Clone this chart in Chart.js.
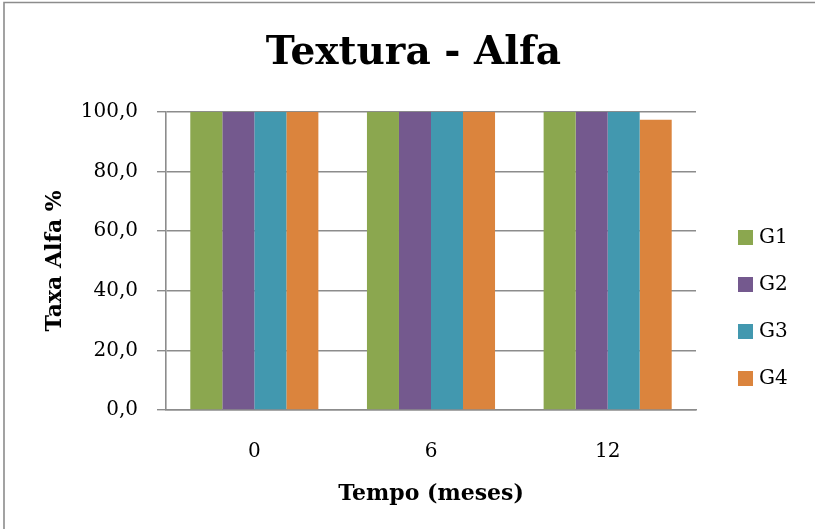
<!DOCTYPE html>
<html>
<head>
<meta charset="utf-8">
<script src="https://cdn.jsdelivr.net/npm/chart.js@4/dist/chart.umd.min.js"></script>
<style>
  html, body { margin: 0; padding: 0; background: #ffffff; }
  #wrap { width: 815px; height: 529px; position: relative; }
</style>
</head>
<body>
<div id="wrap"><canvas id="c" width="815" height="529"></canvas></div>
<script>
// Months of storage on the x axis
const categories = ['0', '6', '12'];

// Alfa rate (%) per group
const g1 = [100, 100, 100];
const g2 = [100, 100, 100];
const g3 = [100, 100, 100];
const g4 = [100, 100, 97.3];

const seriesNames = ['G1', 'G2', 'G3', 'G4'];
const seriesColors = ['#8BA74F', '#74598E', '#4298AF', '#DB843D'];

const yTicks = { min: 0, max: 100, step: 20 };

const FONT = "'DejaVu Serif', 'Liberation Serif', serif";
Chart.defaults.font.family = FONT;
Chart.defaults.color = '#000000';

// Frame around the chart and a legend in the right-hand column
const framePlugin = {
  id: 'frame',
  beforeDraw(chart) {
    const ctx = chart.ctx;
    ctx.save();
    ctx.fillStyle = '#ffffff';
    ctx.fillRect(0, 0, chart.width, chart.height);
    ctx.strokeStyle = '#8c8c8c';
    ctx.lineWidth = 1.6;
    ctx.beginPath();
    ctx.moveTo(4, chart.height);
    ctx.lineTo(4, 2.5);
    ctx.lineTo(chart.width, 2.5);
    ctx.stroke();
    ctx.restore();
  },
  afterDraw(chart) {
    const ctx = chart.ctx;
    ctx.save();
    ctx.font = '20px ' + FONT;
    ctx.textBaseline = 'middle';
    ctx.textAlign = 'left';
    const top = 237, gap = 47;
    chart.data.datasets.forEach((ds, i) => {
      const cy = top + i * gap;
      ctx.fillStyle = ds.backgroundColor;
      ctx.fillRect(738, cy - 7, 15, 15);
      ctx.fillStyle = '#000000';
      ctx.fillText(ds.label, 759, cy + 1);
    });
    ctx.restore();
  }
};

const datasets = [g1, g2, g3, g4].map((vals, i) => ({
  label: seriesNames[i],
  data: vals,
  backgroundColor: seriesColors[i],
  borderWidth: 0,
  categoryPercentage: 0.725,
  barPercentage: 1.0
}));

new Chart(document.getElementById('c'), {
  type: 'bar',
  data: { labels: categories, datasets },
  options: {
    responsive: false,
    animation: false,
    devicePixelRatio: 1,
    layout: { padding: { left: 12, right: 0, top: 0, bottom: 0 } },
    plugins: {
      legend: { display: false },
      tooltip: { enabled: false },
      title: {
        display: true,
        text: 'Textura - Alfa',
        font: { size: 39, weight: 'bold', family: FONT },
        color: '#000000',
        padding: { top: 30, bottom: 35 }
      }
    },
    scales: {
      x: {
        grid: { display: false, drawTicks: false, tickLength: 0 },
        border: { display: true, color: '#8c8c8c', width: 1.6 },
        ticks: { font: { size: 20 }, padding: 30, color: '#000000' },
        title: {
          display: true,
          text: 'Tempo (meses)',
          font: { size: 22, weight: 'bold' },
          color: '#000000',
          padding: { top: 0, bottom: 22 }
        },
        afterFit(scale) { scale.height = 119; }
      },
      y: {
        min: yTicks.min,
        max: yTicks.max,
        grid: { color: '#8c8c8c', lineWidth: 1.4, tickLength: 9, drawTicks: true },
        border: { display: true, color: '#8c8c8c', width: 1.6 },
        ticks: {
          stepSize: yTicks.step,
          font: { size: 20 },
          padding: 19,
          color: '#000000',
          callback: (v) => v.toFixed(1).replace('.', ',')
        },
        title: {
          display: true,
          text: 'Taxa Alfa %',
          font: { size: 22, weight: 'bold' },
          color: '#000000',
          padding: { top: 30, bottom: 0 }
        },
        afterFit(scale) { scale.width = 154; }
      },
      // empty column on the right that holds the legend
      legendSpace: {
        type: 'linear',
        position: 'right',
        display: true,
        grid: { display: false, drawTicks: false },
        border: { display: false },
        ticks: { display: false },
        afterFit(scale) { scale.width = 119; }
      }
    }
  },
  plugins: [framePlugin]
});
</script>
</body>
</html>
